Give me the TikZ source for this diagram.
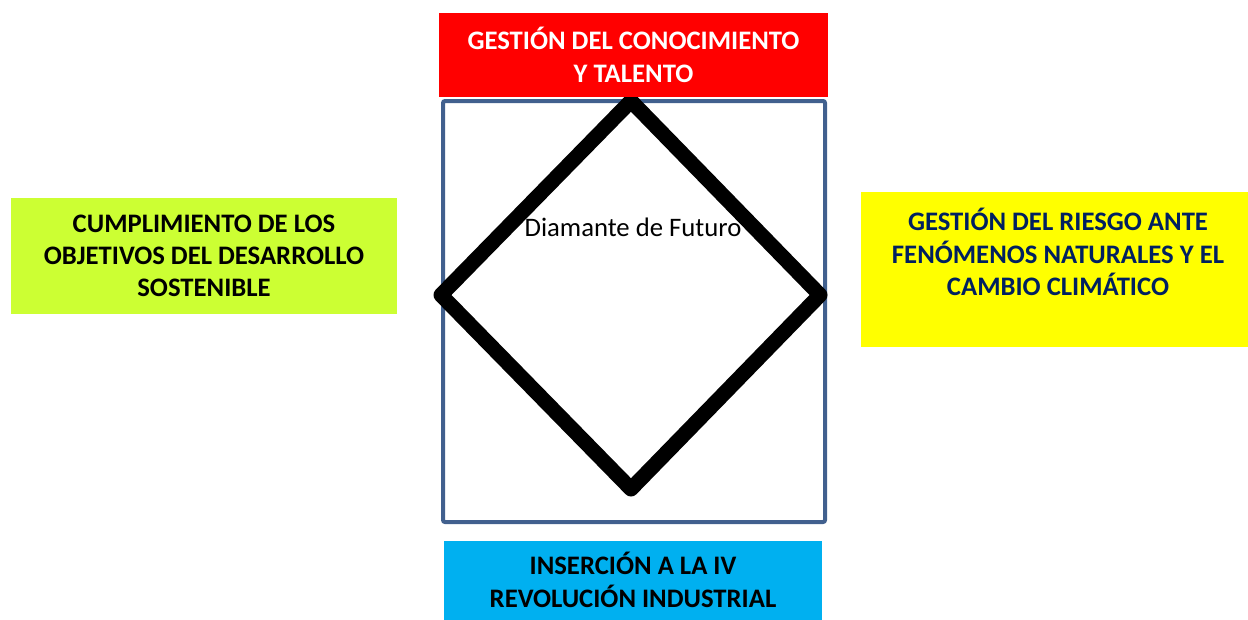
\documentclass[tikz,border=0pt]{standalone}
\usepackage{fontspec}
\setmainfont{Carlito}
\definecolor{redbox}{HTML}{FF0000}
\definecolor{greenbox}{HTML}{CCFF33}
\definecolor{yellowbox}{HTML}{FFFF00}
\definecolor{cyanbox}{HTML}{00B0F0}
\definecolor{frameblue}{HTML}{41608E}
\definecolor{navytext}{HTML}{002060}
\tikzset{
  box/.style={rectangle, inner sep=0pt, align=center, font=\fontsize{26.7}{32.3}\selectfont\bfseries},
  lbl/.style={inner sep=0pt, align=center, font=\fontsize{26.7}{32.3}\selectfont\bfseries},
}
\begin{document}
\begin{tikzpicture}[x=1pt,y=-1pt]
\useasboundingbox (0,0) rectangle (1248,619);
% frame
\node[draw=frameblue, line width=4pt, rounded corners=2pt, minimum width=382pt, minimum height=421pt, inner sep=0pt] (frame) at (634,311.5) {};
% diamond
\coordinate (dt) at (631,101);
\coordinate (dr) at (820,295);
\coordinate (db) at (631,489);
\coordinate (dl) at (441,295);
\draw[line width=15pt, line join=round] (dt) -- (dr) -- (db) -- (dl) -- cycle;
\node[inner sep=0pt, font=\fontsize{26.7}{32.3}\selectfont] (diam) at (633,227) {Diamante de Futuro};
% top box
\node[box, fill=redbox, text=white, minimum width=389pt, minimum height=84pt] (top) at (633.5,55) {GESTIÓN DEL CONOCIMIENTO\\Y TALENTO};
% left box
\node[box, fill=greenbox, text=black, minimum width=386pt, minimum height=116pt] (left) at (204,256) {CUMPLIMIENTO DE LOS\\OBJETIVOS DEL DESARROLLO\\SOSTENIBLE};
% right box
\node[box, fill=yellowbox, minimum width=387pt, minimum height=155pt] (right) at (1054.5,269.5) {};
\node[lbl, text=navytext] (righttext) at (1058,252) {GESTIÓN DEL RIESGO ANTE\\FENÓMENOS NATURALES Y EL\\CAMBIO CLIMÁTICO};
% bottom box
\node[box, fill=cyanbox, text=black, minimum width=378pt, minimum height=79pt] (bottom) at (633,580) {INSERCIÓN A LA IV\\REVOLUCIÓN INDUSTRIAL};
\end{tikzpicture}
\end{document}
